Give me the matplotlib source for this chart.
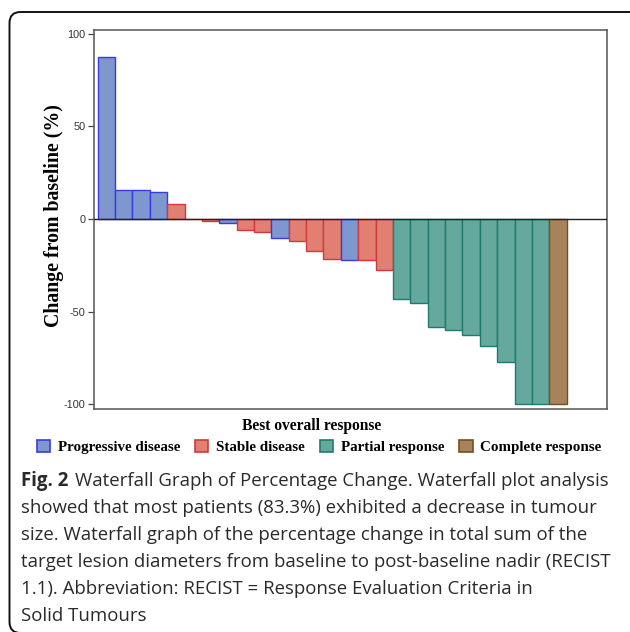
import matplotlib
matplotlib.use("Agg")
import matplotlib.pyplot as plt
from matplotlib.patches import Patch, FancyBboxPatch

# ---- data ----
values = [87.5, 15.8, 15.8, 14.4, 8.3, 0.0, -1.2, -2.3, -5.9, -6.8, -10.1, -11.9,
          -17.3, -21.4, -22.3, -22.3, -27.3,
          -43.0, -45.3, -58.3, -60.1, -62.6, -68.7, -77.1, -100.0, -100.0, -100.0]
responses = ["PD", "PD", "PD", "PD", "SD", "SD", "SD", "PD", "SD", "SD", "PD", "SD",
             "SD", "SD", "PD", "SD", "SD",
             "PR", "PR", "PR", "PR", "PR", "PR", "PR", "PR", "PR", "CR"]
categories = ["PD", "SD", "PR", "CR"]
legend_labels = ["Progressive disease", "Stable disease", "Partial response", "Complete response"]
yticks = [-100, -50, 0, 50, 100]

fill = {"PD": "#7f97cf", "SD": "#e07f72", "PR": "#64a89e", "CR": "#a8825a"}
edge = {"PD": "#3a3ae0", "SD": "#d03a3a", "PR": "#1f7b6e", "CR": "#74501e"}

W, H = 630, 632
fig = plt.figure(figsize=(W / 100, H / 100), dpi=100)

# outer rounded frame (pixel coordinates)
frame = FancyBboxPatch((9.5, H - 633), 645 - 9.5, 633 - 12,
                       boxstyle="round,pad=0,rounding_size=11",
                       transform=None, fill=False, edgecolor="#111111",
                       linewidth=1.4, clip_on=False)
fig.patches.append(frame)

ax = fig.add_axes([94 / W, 1 - 409 / H, (607 - 94) / W, (409 - 30) / H])
x = list(range(len(values)))
ax.bar(x, values, width=1.0,
       color=[fill[r] for r in responses],
       edgecolor=[edge[r] for r in responses], linewidth=1.0, zorder=2)
ax.axhline(0, color="#222222", linewidth=1.0, zorder=3)
ax.set_xlim(-0.71, 28.82)
ax.set_ylim(-102.5, 102)
ax.set_xticks([])
ax.set_yticks(yticks)
ax.set_yticklabels([str(v) for v in yticks], fontsize=7.8, color="#333333",
                   family="Liberation Sans")
ax.tick_params(axis="y", length=4, width=0.9, color="#444444", pad=2)
for s in ax.spines.values():
    s.set_color("#555555")
    s.set_linewidth(1.1)

fig.text(54 / W, 1 - 216 / H, "Change from baseline (%)", rotation=90,
         ha="center", va="center", family="Liberation Serif", fontweight="bold",
         fontsize=14.3)
fig.text(312 / W, 1 - 425.5 / H, "Best overall response", ha="center", va="center",
         family="Liberation Serif", fontweight="bold", fontsize=11.2)

handles = [Patch(facecolor=fill[c], edgecolor=edge[c], linewidth=1.2) for c in categories]
fig.legend(handles, legend_labels, loc="center", bbox_to_anchor=(319 / W, 1 - 446.7 / H),
           ncol=4, frameon=False, handlelength=0.9, handleheight=0.9,
           handletextpad=0.5, columnspacing=1.0,
           prop={"family": "Liberation Serif", "weight": "bold", "size": 10.8})

# caption
cap_lines = [
    "Waterfall Graph of Percentage Change. Waterfall plot analysis",
    "showed that most patients (83.3%) exhibited a decrease in tumour",
    "size. Waterfall graph of the percentage change in total sum of the",
    "target lesion diameters from baseline to post-baseline nadir (RECIST",
    "1.1). Abbreviation: RECIST = Response Evaluation Criteria in",
    "Solid Tumours",
]
x0 = 21 / W
base0 = 486
step = 27
target_right = 612  # right end of first caption line, in pixels
cap_fs = 12.3
col = "#2a2a2a"

def draw_caption(fs):
    t_bold = fig.text(x0, 1 - base0 / H, "Fig. 2", family="Open Sans", fontweight="bold",
                      fontsize=fs, va="baseline", color=col)
    fig.canvas.draw()
    bb = t_bold.get_window_extent()
    t1 = fig.text(bb.x1 / W + 0.33 * fs / W * 100 / 72, 1 - base0 / H, cap_lines[0],
                  family="Open Sans", fontsize=fs, va="baseline", color=col)
    rest = []
    for i, line in enumerate(cap_lines[1:], start=1):
        rest.append(fig.text(x0, 1 - (base0 + i * step) / H, line, family="Open Sans",
                             fontsize=fs, va="baseline", color=col))
    fig.canvas.draw()
    return [t_bold, t1] + rest, t1.get_window_extent().x1

texts, right = draw_caption(cap_fs)
scale = (target_right - 21) / (right - 21)
for t in texts:
    t.remove()
draw_caption(cap_fs * scale)

fig.savefig("out.png", dpi=100)
